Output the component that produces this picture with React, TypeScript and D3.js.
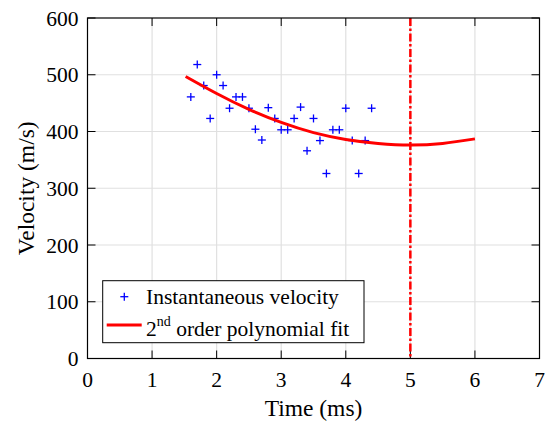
import React from "react";
import * as d3 from "d3";

const timeMs = [1.6, 1.7, 1.8, 1.9, 2.0, 2.1, 2.2, 2.3, 2.4, 2.5, 2.6, 2.7, 2.8, 2.9, 3.0, 3.1, 3.2, 3.3, 3.4, 3.5, 3.6, 3.7, 3.8, 3.9, 4.0, 4.1, 4.2, 4.3, 4.4];
const velocity = [461, 518, 481, 423, 500, 481, 441, 461, 461, 441, 404, 385, 442, 423, 403, 403, 423, 443, 366, 423, 384, 326, 403, 403, 441, 384, 326, 384, 441];

const fitT = [1.52, 2.0, 2.5, 3.0, 3.5, 4.0, 4.5, 5.0, 5.5, 6.0];
const fitV = [497, 467, 439, 416, 398, 386, 379, 376, 379, 387];

const markerT = 5;

const xTicks = [0, 1, 2, 3, 4, 5, 6, 7];
const yTicks = [0, 100, 200, 300, 400, 500, 600];

const W = 546;
const H = 423;
const L = 87.5, R = 539.5, T = 18, B = 358.5;
const FONT = '"Liberation Serif", "DejaVu Serif", serif';

export default function App() {
  const x = d3.scaleLinear().domain([0, 7]).range([L, R]);
  const y = d3.scaleLinear().domain([0, 600]).range([B, T]);
  const line = d3
    .line<number>()
    .x((_, i) => x(fitT[i]))
    .y((d) => y(d))
    .curve(d3.curveNatural);
  const fitPath = line(fitV) || "";
  const tk = 8;
  const ps = 4;
  const ts = { fontFamily: FONT };

  return (
    <svg width={W} height={H} style={{ position: "absolute", left: 0, top: 0, background: "#fff", fontFamily: FONT }}>
      <rect x={0} y={0} width={W} height={H} fill="#fff" />
      {xTicks.slice(1, -1).map((t) => (
        <line key={"gx" + t} x1={x(t)} x2={x(t)} y1={T} y2={B} stroke="#e0e0e0" strokeWidth={1.2} />
      ))}
      {yTicks.slice(1, -1).map((t) => (
        <line key={"gy" + t} x1={L} x2={R} y1={y(t)} y2={y(t)} stroke="#e0e0e0" strokeWidth={1.2} />
      ))}
      {xTicks.map((t) => (
        <g key={"tx" + t}>
          <line x1={x(t)} x2={x(t)} y1={B} y2={B - tk} stroke="#000" strokeWidth={1} />
          <line x1={x(t)} x2={x(t)} y1={T} y2={T + tk} stroke="#000" strokeWidth={1} />
          <text style={ts} x={x(t)} y={386.5} fontSize={21.5} textAnchor="middle" fill="#000">{t}</text>
        </g>
      ))}
      {yTicks.map((t) => (
        <g key={"ty" + t}>
          <line x1={L} x2={L + tk} y1={y(t)} y2={y(t)} stroke="#000" strokeWidth={1} />
          <line x1={R} x2={R - tk} y1={y(t)} y2={y(t)} stroke="#000" strokeWidth={1} />
          <text style={ts} x={78.5} y={y(t) + 7.5} fontSize={21.5} textAnchor="end" fill="#000">{t}</text>
        </g>
      ))}
      {timeMs.map((t, i) => (
        <g key={"p" + i} stroke="#0000ff" strokeWidth={1.3}>
          <line x1={x(t) - ps} x2={x(t) + ps} y1={y(velocity[i])} y2={y(velocity[i])} />
          <line x1={x(t)} x2={x(t)} y1={y(velocity[i]) - ps} y2={y(velocity[i]) + ps} />
        </g>
      ))}
      <path d={fitPath} fill="none" stroke="#ff0000" strokeWidth={3} />
      <line x1={x(markerT)} x2={x(markerT)} y1={T} y2={B} stroke="#ff0000" strokeWidth={2.5} strokeDasharray="8,2.5,2.5,2.5" />
      <rect x={L} y={T} width={R - L} height={B - T} fill="none" stroke="#000" strokeWidth={1.2} />
      <rect x={102.7} y={280.7} width={261.3} height={62} fill="#fff" stroke="#000" strokeWidth={1} />
      <g stroke="#0000ff" strokeWidth={1.3}>
        <line x1={124.3 - ps} x2={124.3 + ps} y1={296.7} y2={296.7} />
        <line x1={124.3} x2={124.3} y1={296.7 - ps} y2={296.7 + ps} />
      </g>
      <text style={ts} x={146} y={304} fontSize={21.5} fill="#000">Instantaneous velocity</text>
      <line x1={106.7} x2={141.7} y1={325} y2={325} stroke="#ff0000" strokeWidth={3} />
      <text style={ts} x={146} y={336} fontSize={21.5} fill="#000">
        2<tspan fontSize={14} dy={-10}>nd</tspan>
        <tspan dy={10}> order polynomial fit</tspan>
      </text>
      <text style={ts} x={(L + R) / 2} y={416} fontSize={23.5} textAnchor="middle" fill="#000">Time (ms)</text>
      <text style={ts} transform={`translate(34,${(T + B) / 2}) rotate(-90)`} fontSize={23.5} textAnchor="middle" fill="#000">Velocity (m/s)</text>
    </svg>
  );
}
